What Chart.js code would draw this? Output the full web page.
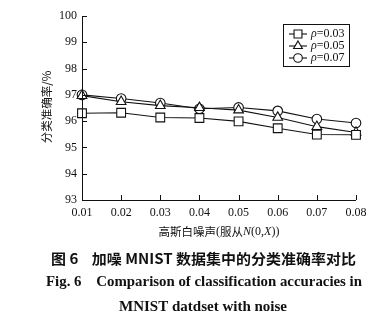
<!DOCTYPE html>
<html><head><meta charset="utf-8">
<script src="https://cdn.jsdelivr.net/npm/chart.js@4/dist/chart.umd.min.js"></script>
<style>html,body{margin:0;padding:0;background:#fff}#wrap{width:388px;height:321px;position:relative}</style>
</head><body><div id="wrap"><canvas id="c" width="388" height="321"></canvas></div>
<script>
const categories = ["0.01","0.02","0.03","0.04","0.05","0.06","0.07","0.08"];
const seriesLabels = ["0.03","0.05","0.07"];
const rho003 = [96.30, 96.32, 96.14, 96.12, 95.99, 95.73, 95.49, 95.48];
const rho005 = [96.97, 96.74, 96.59, 96.51, 96.42, 96.14, 95.79, 95.57];
const rho007 = [97.00, 96.86, 96.69, 96.47, 96.52, 96.39, 96.08, 95.93];
const yTicks = [93, 94, 95, 96, 97, 98, 99, 100];
const xTitle = [["高斯白噪声", "c"], ["(", ""], ["服从", "c"], ["N", "i"], ["(0,", ""], ["X", "i"], ["))", ""]];
const yTitle = "分类准确率/%";
const caption1 = "图 6    加噪 MNIST 数据集中的分类准确率对比";
const caption2 = "Fig. 6    Comparison of classification accuracies in";
const caption3 = "MNIST datdset with noise";

const SERIF = "'Liberation Serif','DejaVu Serif',serif";
const CJK = "'Noto Sans CJK SC',sans-serif";
const styles = ['rect', 'triangle', 'circle'];
const radii = [6.2, 5.6, 4.8];

const datasets = [rho003, rho005, rho007].map((d, i) => ({
  label: seriesLabels[i], data: d,
  borderColor: '#111', borderWidth: 1.1, backgroundColor: '#fff',
  pointStyle: styles[i], pointRadius: radii[i], pointBorderColor: '#111',
  pointBackgroundColor: '#fff', pointBorderWidth: 1.1, tension: 0
}));

const deco = {
  id: 'deco',
  afterDraw(chart) {
    const ctx = chart.ctx, a = chart.chartArea;
    const xs = chart.scales.x, ys = chart.scales.y;
    ctx.save();
    ctx.strokeStyle = '#111'; ctx.lineWidth = 1;
    ctx.beginPath();
    ctx.moveTo(a.left + 0.5, a.top); ctx.lineTo(a.left + 0.5, a.bottom + 0.5); ctx.lineTo(a.right, a.bottom + 0.5);
    ctx.stroke();
    ctx.beginPath();
    yTicks.forEach(v => { const y = Math.round(ys.getPixelForValue(v)) + 0.5; ctx.moveTo(a.left, y); ctx.lineTo(a.left + 5, y); });
    categories.forEach((c, i) => { const x = Math.round(xs.getPixelForValue(i)) + 0.5; ctx.moveTo(x, a.bottom); ctx.lineTo(x, a.bottom - 5); });
    ctx.stroke();
    // legend
    const lx = 283, ly = 24, lw = 66, lh = 42;
    ctx.fillStyle = '#fff'; ctx.fillRect(lx, ly, lw, lh);
    ctx.strokeRect(lx + 0.5, ly + 0.5, lw, lh);
    chart.data.datasets.forEach((ds, i) => {
      const y = ly + 10 + i * 12;
      ctx.strokeStyle = '#111';
      ctx.beginPath(); ctx.moveTo(289, y); ctx.lineTo(307, y); ctx.lineWidth = 1.1; ctx.stroke();
      ctx.fillStyle = '#fff';
      Chart.helpers.drawPoint(ctx, {pointStyle: ds.pointStyle, radius: ds.pointRadius * 0.9, borderWidth: 1.1}, 298, y);
      ctx.fillStyle = '#111'; ctx.textBaseline = 'middle'; ctx.textAlign = 'left';
      ctx.font = 'italic 12px ' + SERIF; ctx.fillText('ρ', 311, y);
      const w = ctx.measureText('ρ').width;
      ctx.font = '12px ' + SERIF; ctx.fillText('=' + ds.label, 311 + w, y);
    });
    // x title
    ctx.fillStyle = '#111'; ctx.textBaseline = 'middle';
    const fnt = p => p[1] === 'i' ? 'italic 12px ' + SERIF : (p[1] === 'c' ? '11.5px ' + CJK : '12px ' + SERIF);
    let total = 0;
    xTitle.forEach(p => { ctx.font = fnt(p); total += ctx.measureText(p[0]).width; });
    let x = 219 - total / 2; ctx.textAlign = 'left';
    xTitle.forEach(p => { ctx.font = fnt(p); ctx.fillText(p[0], x, 232); x += ctx.measureText(p[0]).width; });
    // y title
    ctx.save(); ctx.translate(47, 107); ctx.rotate(-Math.PI / 2);
    ctx.textAlign = 'center'; ctx.font = '11.5px ' + CJK; ctx.fillText(yTitle, 0, 0);
    ctx.restore();
    // captions
    const fitText = (t, font, cx, cy, width) => {
      ctx.font = font; const w = ctx.measureText(t).width;
      ctx.save(); ctx.translate(cx, cy); ctx.scale(width / w, 1);
      ctx.textAlign = 'center'; ctx.fillText(t, 0, 0); ctx.restore();
    };
    fitText(caption1, 'bold 14px ' + CJK, 203.5, 259, 305);
    fitText(caption2, 'bold 14px ' + SERIF, 204, 282, 316);
    fitText(caption3, 'bold 14px ' + SERIF, 203, 307, 168);
    ctx.restore();
  }
};

new Chart(document.getElementById('c'), {
  type: 'line',
  data: { labels: categories, datasets },
  options: {
    responsive: false, animation: false, devicePixelRatio: 1,
    layout: { padding: { top: 16, right: 32, left: 0, bottom: 0 } },
    plugins: { legend: { display: false }, tooltip: { enabled: false } },
    scales: {
      x: {
        type: 'category', offset: false,
        grid: { display: false, drawTicks: false },
        border: { display: false },
        ticks: { color: '#111', font: { family: SERIF, size: 12 }, padding: 6, maxRotation: 0, autoSkip: false },
        afterFit: s => { s.height = 121; }
      },
      y: {
        min: 93, max: 100,
        grid: { display: false, drawTicks: false },
        border: { display: false },
        afterBuildTicks: s => { s.ticks = yTicks.map(v => ({ value: v })); },
        ticks: { color: '#111', font: { family: SERIF, size: 12 }, padding: 5 },
        afterFit: s => { s.width = 82; }
      }
    }
  },
  plugins: [deco]
});
</script></body></html>
